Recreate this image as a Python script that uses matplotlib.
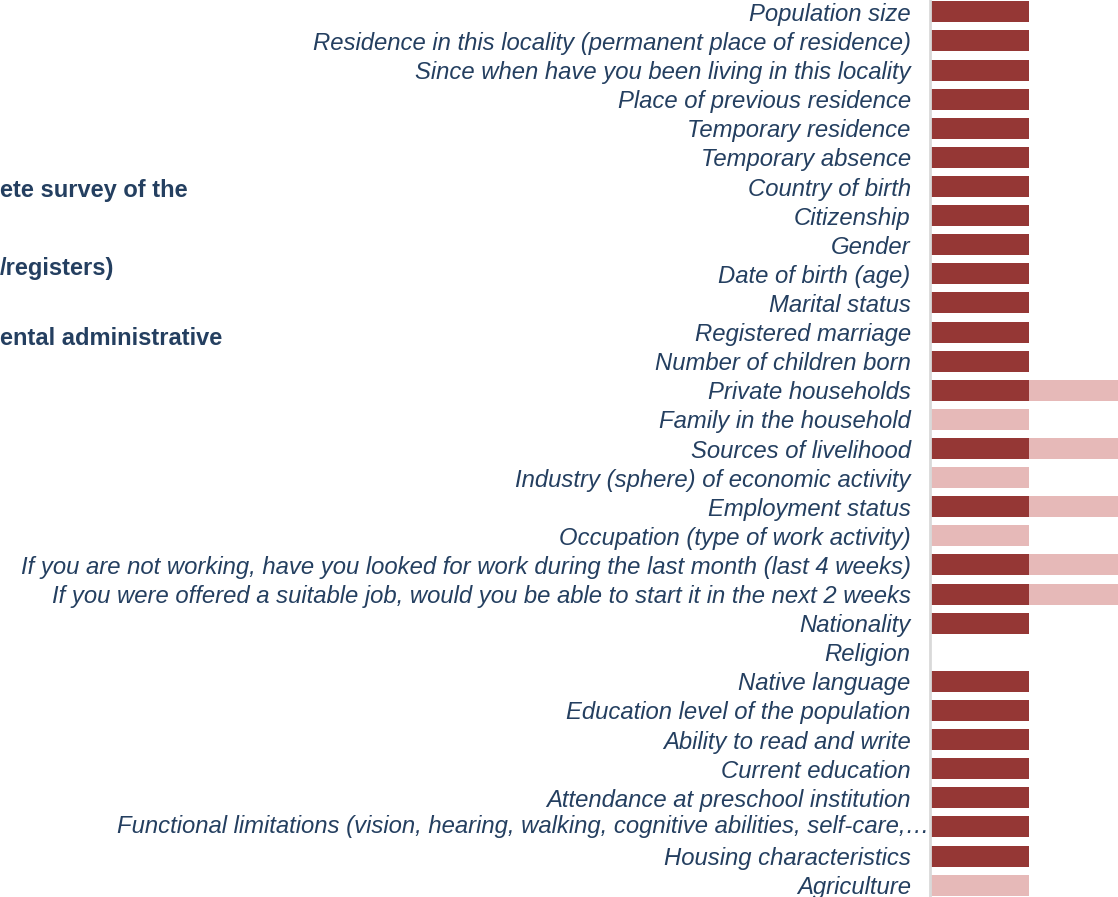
import matplotlib
matplotlib.use("Agg")
import matplotlib.pyplot as plt
import numpy as np

plt.rcParams['font.family'] = ['Liberation Sans', 'DejaVu Sans']

# questions, top to bottom
categories = [
    "Population size",
    "Residence in this locality (permanent place of residence)",
    "Since when have you been living in this locality",
    "Place of previous residence",
    "Temporary residence",
    "Temporary absence",
    "Country of birth",
    "Citizenship",
    "Gender",
    "Date of birth (age)",
    "Marital status",
    "Registered marriage",
    "Number of children born",
    "Private households",
    "Family in the household",
    "Sources of livelihood",
    "Industry (sphere) of economic activity",
    "Employment status",
    "Occupation (type of work activity)",
    "If you are not working, have you looked for work during the last month (last 4 weeks)",
    "If you were offered a suitable job, would you be able to start it in the next 2 weeks",
    "Nationality",
    "Religion",
    "Native language",
    "Education level of the population",
    "Ability to read and write",
    "Current education",
    "Attendance at preschool institution",
    "Functional limitations (vision, hearing, walking, cognitive abilities, self-care,\u2026",
    "Housing characteristics",
    "Agriculture",
]
complete_survey = [1, 1, 1, 1, 1, 1, 1, 1, 1, 1, 1, 1, 1, 1, 0, 1, 0, 1, 0, 1, 1,
                   1, 0, 1, 1, 1, 1, 1, 1, 1, 0]
admin_sources = [0, 0, 0, 0, 0, 0, 0, 0, 0, 0, 0, 0, 0, 1, 1, 1, 1, 1, 1, 1, 1,
                 0, 0, 0, 0, 0, 0, 0, 0, 0, 1]
# only the visible part of the legend text (rest is off the left edge)
legend_labels = ["ete survey of the", "/registers)", "ental administrative"]

dark = "#953735"
light = "#E6B9B8"
navy = "#243F60"
fsize = 17.2

fig = plt.figure(figsize=(11.18, 8.97), dpi=100)
ax = fig.add_axes([0.832, -0.003, 0.266, 1.006])

y = np.arange(len(categories))
ax.barh(y, complete_survey, height=0.72, color=dark)
ax.barh(y, admin_sources, left=complete_survey, height=0.72, color=light)

ax.set_xlim(0, 3)
ax.set_ylim(len(categories) - 0.5, -0.5)
ax.set_xticks([])
ax.set_yticks(y)
long_idx = 28
ticklabels = [c if i != long_idx else "" for i, c in enumerate(categories)]
ax.set_yticklabels(ticklabels, fontsize=fsize, style='italic', color=navy)
ax.tick_params(axis='y', length=0, pad=14)
ax.text(-0.002, long_idx, categories[long_idx], transform=ax.get_yaxis_transform(),
        ha='right', va='center', fontsize=fsize, style='italic', color=navy)

for s in ["top", "right", "bottom"]:
    ax.spines[s].set_visible(False)
ax.spines["left"].set_color("#D9D9D9")
ax.spines["left"].set_linewidth(2)
ax.set_zorder(2)
ax.patch.set_alpha(0)

legend_y = [0.788, 0.701, 0.623]
for lab, ly in zip(legend_labels, legend_y):
    fig.text(0.0, ly, lab, ha='left', va='center', fontsize=17,
             fontweight='bold', color=navy)

fig.savefig("out.png", dpi=100)
